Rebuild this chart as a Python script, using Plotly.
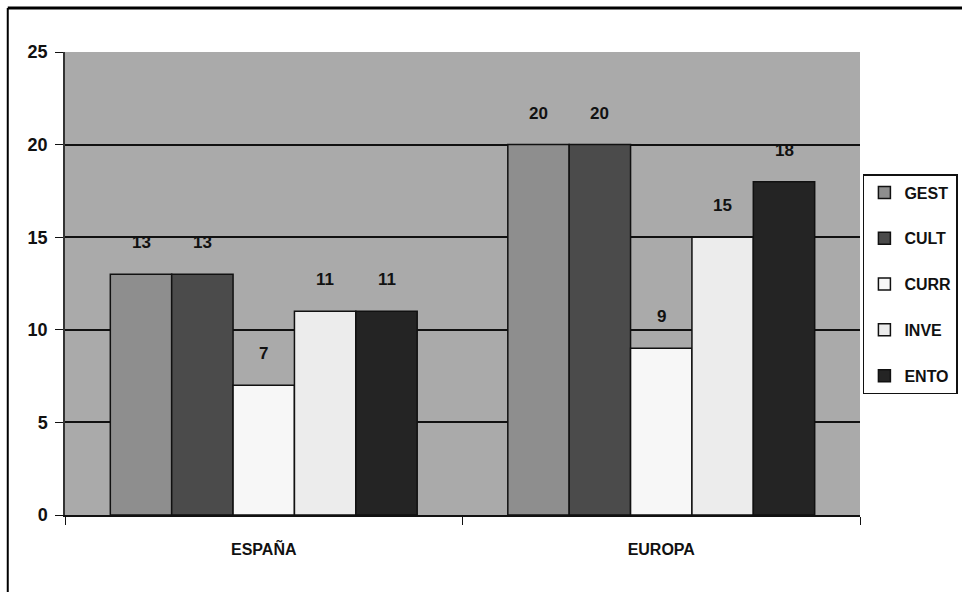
import plotly.graph_objects as go

# Data
regions = ["ESPAÑA", "EUROPA"]
series_names = ["GEST", "CULT", "CURR", "INVE", "ENTO"]
gest = [13, 20]
cult = [13, 20]
curr = [7, 9]
inve = [11, 15]
ento = [11, 18]
series_values = [gest, cult, curr, inve, ento]
y_ticks = [0, 5, 10, 15, 20, 25]

colors = ["#8e8e8e", "#4b4b4b", "#f7f7f7", "#ececec", "#242424"]

BARGAP = 0.228
FONT = "Liberation Sans, Arial"

fig = go.Figure()
for i, (name, vals) in enumerate(zip(series_names, series_values)):
    fig.add_trace(go.Bar(
        x=regions, y=vals, name=name,
        legendgroup=name,
        marker=dict(color=colors[i], line=dict(color="#111111", width=1.5)),
    ))

# Value labels above each bar, placed at the bar's slot inside its group
n = len(series_names)
bar_w = (1 - BARGAP) / n
for i, vals in enumerate(series_values):
    for k, v in enumerate(vals):
        fig.add_annotation(
            x=k + (i - (n - 1) / 2) * bar_w, y=v, xref="x", yref="y",
            text=str(v), showarrow=False, yanchor="bottom", yshift=20,
            font=dict(family=FONT, size=17, color="#111111", weight="bold"),
        )

# Frame lines along top and left of the page
fig.add_shape(type="line", xref="paper", yref="paper", x0=-0.072, x1=1.2,
              y0=1.095, y1=1.095, line=dict(color="#000000", width=3))
fig.add_shape(type="line", xref="paper", yref="paper", x0=-0.072, x1=-0.072,
              y0=1.095, y1=-0.2, line=dict(color="#000000", width=2))

fig.update_layout(
    width=962, height=592,
    margin=dict(l=65, r=102, t=52, b=77, autoexpand=False),
    paper_bgcolor="#ffffff",
    plot_bgcolor="#aaaaaa",
    barmode="group", bargap=BARGAP, bargroupgap=0,
    font=dict(family=FONT, size=18, color="#111111", weight="bold"),
    showlegend=True,
    legend=dict(
        xref="container", yref="container",
        x=0.897, y=0.706, xanchor="left", yanchor="top",
        bgcolor="#ffffff", bordercolor="#111111", borderwidth=1.5,
        tracegroupgap=22, itemwidth=30,
        font=dict(family=FONT, size=16, color="#111111", weight="bold"),
    ),
    xaxis=dict(
        type="category", tickson="boundaries", ticks="outside", ticklen=8,
        tickcolor="#111111", showline=True, linecolor="#111111", linewidth=2,
        ticklabelstandoff=19, showgrid=False,
        tickfont=dict(family=FONT, size=16, color="#111111", weight="bold"),
    ),
    yaxis=dict(
        range=[0, 25], tickvals=y_ticks, ticks="outside", ticklen=8,
        tickcolor="#111111", showline=True, linecolor="#333333", linewidth=1.5,
        showgrid=True, gridcolor="#111111", gridwidth=2, zeroline=False,
        ticklabelstandoff=4,
    ),
)

fig.write_html("out.html")
